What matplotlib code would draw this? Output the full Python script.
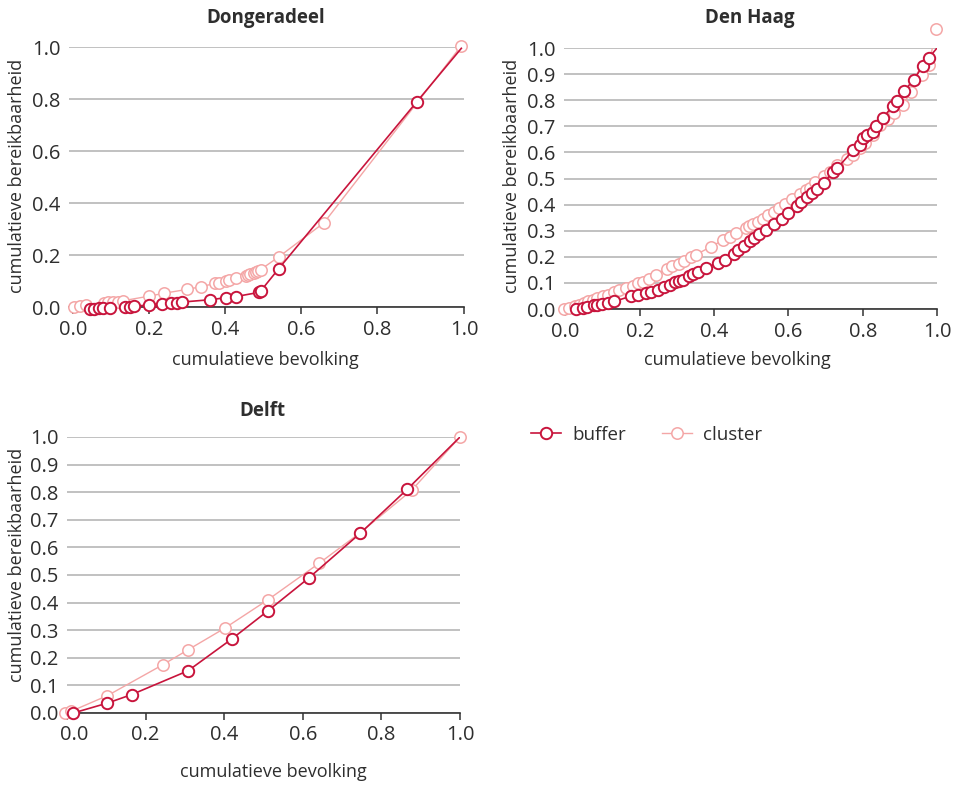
import matplotlib
matplotlib.use("Agg")
import matplotlib.pyplot as plt
import matplotlib.transforms as mtransforms
from matplotlib.lines import Line2D

plt.rcParams['font.family'] = ['Open Sans', 'DejaVu Sans']

BUFFER_COLOR = '#c8143c'
CLUSTER_COLOR = '#f4a6a6'
TEXT_COLOR = '#2e2e2e'
GRID_COLOR = '#b0b0b0'

# Dongeradeel
dong_buffer_x = [0.045, 0.056, 0.067, 0.078, 0.097, 0.137, 0.150, 0.161, 0.201, 0.233,
                 0.258, 0.273, 0.287, 0.361, 0.404, 0.428, 0.489, 0.495, 0.542, 0.906, 1.023]
dong_buffer_y = [-0.008, -0.008, -0.005, -0.005, -0.005, -0.001, 0.001, 0.003, 0.008, 0.013,
                 0.014, 0.017, 0.019, 0.028, 0.036, 0.040, 0.056, 0.063, 0.148, 0.790, 0.995]
dong_cluster_x = [0.003, 0.017, 0.034, 0.082, 0.091, 0.104, 0.118, 0.131, 0.201, 0.240,
                  0.301, 0.337, 0.374, 0.384, 0.403, 0.411, 0.428, 0.455, 0.461, 0.467,
                  0.476, 0.483, 0.488, 0.494, 0.543, 0.661, 1.023]
dong_cluster_y = [0.001, 0.005, 0.008, 0.014, 0.021, 0.021, 0.021, 0.024, 0.042, 0.053,
                  0.068, 0.078, 0.091, 0.094, 0.100, 0.104, 0.110, 0.119, 0.122, 0.126,
                  0.129, 0.133, 0.138, 0.144, 0.194, 0.324, 1.005]

# Den Haag
haag_buffer_x = [0.027, 0.048, 0.059, 0.076, 0.085, 0.097, 0.115, 0.131, 0.176, 0.194,
                 0.218, 0.229, 0.250, 0.266, 0.281, 0.296, 0.306, 0.315, 0.332, 0.344,
                 0.358, 0.378, 0.410, 0.429, 0.454, 0.465, 0.481, 0.497, 0.508, 0.522,
                 0.540, 0.562, 0.582, 0.600, 0.623, 0.634, 0.650, 0.663, 0.677, 0.695,
                 0.720, 0.732, 0.774, 0.792, 0.801, 0.811, 0.829, 0.836, 0.854, 0.881,
                 0.892, 0.912, 0.937, 0.961, 0.978, 1.000]
haag_buffer_y = [0.001, 0.004, 0.008, 0.014, 0.017, 0.019, 0.023, 0.029, 0.049, 0.055,
                 0.061, 0.065, 0.074, 0.083, 0.091, 0.102, 0.109, 0.112, 0.126, 0.135,
                 0.142, 0.156, 0.176, 0.188, 0.209, 0.225, 0.240, 0.259, 0.272, 0.287,
                 0.304, 0.327, 0.346, 0.368, 0.396, 0.409, 0.429, 0.444, 0.461, 0.483,
                 0.525, 0.540, 0.608, 0.630, 0.654, 0.668, 0.677, 0.700, 0.731, 0.779,
                 0.798, 0.837, 0.877, 0.930, 0.962, 1.000]
haag_cluster_x = [-0.004, 0.010, 0.025, 0.037, 0.049, 0.061, 0.075, 0.086, 0.100, 0.115,
                  0.130, 0.145, 0.162, 0.181, 0.196, 0.208, 0.226, 0.243, 0.272, 0.288,
                  0.306, 0.319, 0.337, 0.351, 0.392, 0.423, 0.443, 0.459, 0.485, 0.495,
                  0.506, 0.517, 0.531, 0.546, 0.562, 0.576, 0.591, 0.611, 0.632, 0.648,
                  0.659, 0.672, 0.695, 0.711, 0.732, 0.757, 0.774, 0.793, 0.807, 0.829,
                  0.847, 0.867, 0.883, 0.908, 0.930, 0.960, 0.978, 0.998]
haag_cluster_y = [0.000, 0.004, 0.010, 0.017, 0.023, 0.029, 0.036, 0.042, 0.049, 0.055,
                  0.064, 0.074, 0.079, 0.089, 0.100, 0.103, 0.115, 0.130, 0.155, 0.163,
                  0.174, 0.185, 0.198, 0.208, 0.239, 0.263, 0.275, 0.291, 0.310, 0.317,
                  0.327, 0.335, 0.346, 0.359, 0.372, 0.387, 0.404, 0.423, 0.441, 0.457,
                  0.464, 0.485, 0.511, 0.524, 0.550, 0.575, 0.591, 0.617, 0.636, 0.668,
                  0.706, 0.728, 0.751, 0.783, 0.831, 0.898, 0.934, 1.073]

# Delft
delft_buffer_x = [0.016, 0.103, 0.165, 0.308, 0.420, 0.511, 0.615, 0.746, 0.866, 1.000]
delft_buffer_y = [0.000, 0.036, 0.067, 0.153, 0.269, 0.370, 0.489, 0.651, 0.811, 1.000]
delft_cluster_x = [-0.004, 0.010, 0.103, 0.244, 0.308, 0.401, 0.511, 0.642, 0.746, 0.877, 1.000]
delft_cluster_y = [0.000, 0.006, 0.063, 0.175, 0.229, 0.307, 0.410, 0.543, 0.653, 0.807, 1.000]

W, H = 959, 786
fig = plt.figure(figsize=(W / 100, H / 100), dpi=100)


def px_axes(left, right, top, bottom):
    return fig.add_axes([left / W, 1 - bottom / H, (right - left) / W, (bottom - top) / H])


def draw_series(ax, x, y, color, lw, mew, z, skip_last=False):
    ax.plot(x, y, color=color, lw=lw, zorder=z)
    mx = x[:-1] if skip_last else x
    my = y[:-1] if skip_last else y
    ax.plot(mx, my, ls='none', marker='o', ms=8.2, mfc='white', mec=color,
            mew=mew, zorder=z + 0.5, clip_on=False)


def style(ax, yticks, ytick_labels, xlim, xticks, xtick_labels):
    ax.set_xlim(*xlim)
    ax.set_ylim(0, 1.0)
    ax.set_yticks(yticks)
    ax.set_yticklabels(ytick_labels)
    ax.set_xticks(xticks)
    ax.set_xticklabels(xtick_labels)
    for s in ['top', 'right', 'left']:
        ax.spines[s].set_visible(False)
    ax.spines['bottom'].set_color('#333333')
    ax.spines['bottom'].set_linewidth(1.2)
    ax.spines['bottom'].set_zorder(2)
    ax.yaxis.grid(True, color=GRID_COLOR, lw=1.1, zorder=0)
    ax.set_axisbelow(True)
    ax.tick_params(axis='y', length=0, pad=6, labelsize=14.5, labelcolor=TEXT_COLOR)
    ax.tick_params(axis='x', length=5, width=1.1, color='#333333', pad=4,
                   labelsize=14.5, labelcolor=TEXT_COLOR)


yt5 = [0, 0.2, 0.4, 0.6, 0.8, 1.0]
yt5_labels = ['0.0', '0.2', '0.4', '0.6', '0.8', '1.0']
yt10 = [i / 10 for i in range(11)]
yt10_labels = ['%.1f' % v for v in yt10]
xt = [0, 0.2, 0.4, 0.6, 0.8, 1.0]
xt_labels = ['0.0', '0.2', '0.4', '0.6', '0.8', '1.0']

# panel 1
ax1 = px_axes(69, 464, 47, 307)
draw_series(ax1, dong_cluster_x, dong_cluster_y, CLUSTER_COLOR, 1.0, 1.1, 3)
draw_series(ax1, dong_buffer_x, dong_buffer_y, BUFFER_COLOR, 1.2, 1.4, 4, skip_last=True)
style(ax1, yt5, yt5_labels, (-0.011, 1.03), [0, 0.2, 0.4, 0.6, 0.8, 1.03], xt_labels)

# panel 2
ax2 = px_axes(564, 937, 48, 309)
draw_series(ax2, haag_cluster_x, haag_cluster_y, CLUSTER_COLOR, 1.0, 1.1, 3)
draw_series(ax2, haag_buffer_x, haag_buffer_y, BUFFER_COLOR, 1.2, 1.4, 4, skip_last=True)
style(ax2, yt10, yt10_labels, (-0.004, 1.0), xt, xt_labels)

# panel 3
ax3 = px_axes(67, 460, 437, 713)
draw_series(ax3, delft_cluster_x, delft_cluster_y, CLUSTER_COLOR, 1.0, 1.1, 3)
draw_series(ax3, delft_buffer_x, delft_buffer_y, BUFFER_COLOR, 1.2, 1.4, 4, skip_last=True)
style(ax3, yt10, yt10_labels, (0, 1.0), xt, xt_labels)
first = ax3.get_xticklabels()[0]
first.set_transform(first.get_transform() + mtransforms.ScaledTranslation(0.07, 0, fig.dpi_scale_trans))

# titles and axis labels
titles = [('Dongeradeel', 266, 18), ('Den Haag', 750, 18), ('Delft', 262, 411)]
for t, x, y in titles:
    fig.text(x / W, 1 - y / H, t, ha='center', va='center', fontsize=13.5,
             fontweight='bold', color=TEXT_COLOR)

xlabels = [(265, 360), (737, 360), (273, 772)]
for x, y in xlabels:
    fig.text(x / W, 1 - y / H, 'cumulatieve bevolking', ha='center', va='center',
             fontsize=13, color=TEXT_COLOR)

ylabels = [(17, 176), (512, 176), (17, 565)]
for x, y in ylabels:
    fig.text(x / W, 1 - y / H, 'cumulatieve bereikbaarheid', ha='center', va='center',
             rotation=90, fontsize=13, color=TEXT_COLOR)

handles = [
    Line2D([], [], color=BUFFER_COLOR, lw=1.2, marker='o', ms=8.2, mfc='white',
           mec=BUFFER_COLOR, mew=1.4),
    Line2D([], [], color=CLUSTER_COLOR, lw=1.0, marker='o', ms=8.2, mfc='white',
           mec=CLUSTER_COLOR, mew=1.1),
]
fig.legend(handles, ['buffer', 'cluster'], loc='center left', ncol=2,
           bbox_to_anchor=(531 / W, 1 - 435 / H), frameon=False, fontsize=13.5,
           handlelength=1.6, handletextpad=0.6, columnspacing=1.9,
           borderpad=0, borderaxespad=0, labelcolor=TEXT_COLOR)

fig.savefig('out.png', dpi=100)
